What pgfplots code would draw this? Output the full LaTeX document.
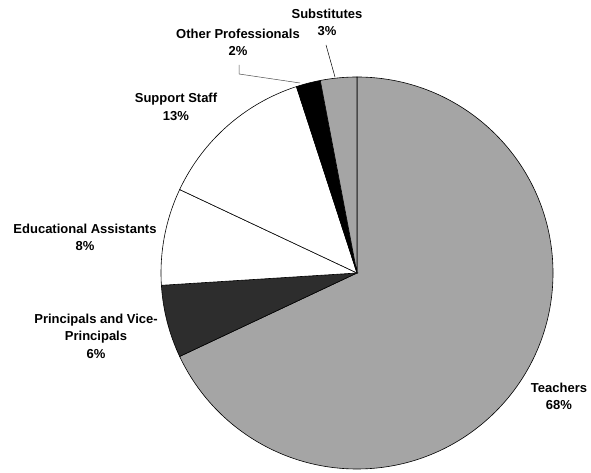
\documentclass[border=0pt]{standalone}
\usepackage{pgfplots}
\usepackage{pgfplotstable}
\pgfplotsset{compat=1.18}
\usepackage{fontspec}
\setmainfont{Liberation Sans}

\definecolor{piegray}{RGB}{165,165,165}
\definecolor{piedark}{RGB}{45,45,45}

% share of staff, clockwise from 12 o'clock
\pgfplotstableread{
value fillc
68 piegray
6  piedark
8  white
13 white
2  black
3  piegray
}\piedata

\begin{document}
\begin{tikzpicture}
\begin{axis}[
			x=1bp, y=1bp,
			xmin=0, xmax=591,
			ymin=0, ymax=473,
			hide axis,
			clip=false
			]
\path (axis cs:0,0) rectangle (axis cs:591,473);
\pgfplotstablegetrowsof{\piedata}
\pgfmathtruncatemacro\lastrow{\pgfplotsretval-1}
\def\cum{0}
\pgfplotsforeachungrouped \i in {0,...,\lastrow}{
	\pgfplotstablegetelem{\i}{value}\of\piedata \let\v\pgfplotsretval
	\pgfplotstablegetelem{\i}{fillc}\of\piedata \let\c\pgfplotsretval
	\pgfmathsetmacro\a{90-3.6*\cum}
	\pgfmathsetmacro\b{90-3.6*(\cum+\v)}
	\edef\temp{\noexpand\filldraw[fill=\c, draw=black, line width=0.6pt]
		(axis cs:357,200) -- ++(\a:196bp) arc[start angle=\a, end angle=\b, radius=196bp] -- cycle;}
	\temp
	\pgfmathsetmacro\cum{\cum+\v}
}
% leader lines
\draw[line width=0.5pt] (axis cs:326,428) -- (axis cs:335,396);
\draw[line width=0.5pt, black!70] (axis cs:239,408) -- (axis cs:239,399) -- (axis cs:300,390);
% labels
\begin{scope}[every node/.style={align=center, font=\fontsize{13bp}{17.5bp}\selectfont\bfseries}]
\node at (axis cs:327,450.5) {Substitutes\\3\%};
\node at (axis cs:238,430.5) {Other Professionals\\2\%};
\node at (axis cs:176,366) {Support Staff\\13\%};
\node at (axis cs:85,235.5) {Educational Assistants\\8\%};
\node at (axis cs:96,137) {Principals and Vice-\\Principals\\6\%};
\node at (axis cs:559,76.5) {Teachers\\68\%};
\end{scope}
\end{axis}
\end{tikzpicture}
\end{document}
